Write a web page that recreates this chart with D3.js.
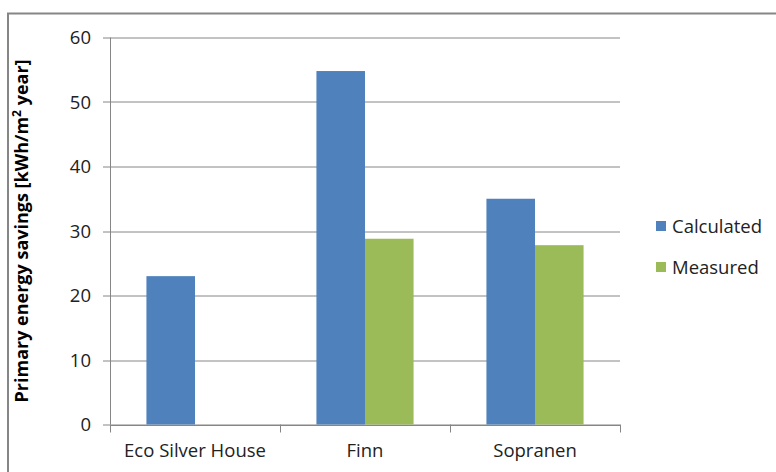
<!DOCTYPE html>
<html>
<head>
<meta charset="utf-8">
<script src="https://cdn.jsdelivr.net/npm/d3@7"></script>
<style>
  body { margin: 0; background: #fff; }
  text { font-family: "Open Sans", sans-serif; fill: #222; }
</style>
</head>
<body>
<div id="chart-area"></div>
<script>
// data
var categories = ["Eco Silver House", "Finn", "Sopranen"];
var seriesNames = ["Calculated", "Measured"];
var calculated = [23, 54.8, 35];
var measured = [null, 28.8, 27.8];
var yTicks = [0, 10, 20, 30, 40, 50, 60];
var colors = ["#4F81BD", "#9BBB59"];

var width = 776, height = 472;
var margin = {top: 37.5, left: 110, right: 156, bottom: 47.5};
var w = width - margin.left - margin.right;
var h = height - margin.top - margin.bottom;

var svg = d3.select("#chart-area")
  .append("svg")
    .attr("width", width)
    .attr("height", height);

// chart frame (cut off at right and bottom like the original)
svg.append("rect")
  .attr("x", 8).attr("y", 13.5)
  .attr("width", 800).attr("height", 500)
  .attr("fill", "none")
  .attr("stroke", "#868686")
  .attr("stroke-width", 2);

var g = svg.append("g")
  .attr("transform", "translate(" + margin.left + "," + margin.top + ")");

var y = d3.scaleLinear().domain([0, 60]).range([h, 0]);
var x = d3.scaleBand().domain(categories).range([0, w]);
var x1 = d3.scaleBand().domain(seriesNames)
  .range([0, x.bandwidth()])
  .paddingInner(0)
  .paddingOuter(0.75);

// gridlines
g.append("g")
  .selectAll("line")
  .data(yTicks)
  .enter().append("line")
    .attr("x1", -7).attr("x2", w)
    .attr("y1", function(d) { return Math.round(y(d)) + 0.5; })
    .attr("y2", function(d) { return Math.round(y(d)) + 0.5; })
    .attr("stroke", "#868686")
    .attr("stroke-width", 1);

// y tick labels
g.append("g")
  .selectAll("text")
  .data(yTicks)
  .enter().append("text")
    .attr("x", -19)
    .attr("y", function(d) { return y(d); })
    .attr("dy", "0.36em")
    .attr("text-anchor", "end")
    .attr("font-size", "18.5px")
    .text(function(d) { return d; });

// bars
var series = [calculated, measured];
seriesNames.forEach(function(name, i) {
  g.append("g")
    .selectAll("rect")
    .data(categories.map(function(c, j) { return {cat: c, v: series[i][j]}; })
      .filter(function(d) { return d.v != null; }))
    .enter().append("rect")
      .attr("x", function(d) { return x(d.cat) + x1(name); })
      .attr("width", x1.bandwidth())
      .attr("y", function(d) { return y(d.v); })
      .attr("height", function(d) { return h - y(d.v); })
      .attr("fill", colors[i]);
});

// y axis line
g.append("line")
  .attr("x1", 0.5).attr("x2", 0.5)
  .attr("y1", 0).attr("y2", h)
  .attr("stroke", "#868686");

// x axis
var xAxis = d3.axisBottom(x).tickSize(0).tickPadding(19);
var xg = g.append("g")
  .attr("transform", "translate(0," + (Math.round(h) + 0.5) + ")")
  .call(xAxis);
xg.select(".domain").attr("stroke", "#868686");
xg.selectAll("text")
  .attr("font-size", "18.5px")
  .attr("font-family", "Open Sans, sans-serif")
  .attr("fill", "#222");

// category separator ticks
g.append("g")
  .selectAll("line")
  .data(d3.range(categories.length + 1))
  .enter().append("line")
    .attr("x1", function(i) { return Math.round(i * x.step()) + 0.5; })
    .attr("x2", function(i) { return Math.round(i * x.step()) + 0.5; })
    .attr("y1", h).attr("y2", h + 8)
    .attr("stroke", "#868686");

// y axis title
g.append("text")
  .attr("transform", "rotate(-90)")
  .attr("x", -(231 - margin.top))
  .attr("y", -82)
  .attr("text-anchor", "middle")
  .attr("font-size", "18px")
  .attr("font-weight", "bold")
  .style("fill", "#000")
  .html('Primary energy savings [kWh/m<tspan dy="-7" font-size="12px">2</tspan><tspan dy="7"> year]</tspan>');

// legend
var legend = svg.append("g")
  .attr("transform", "translate(656,221)");
seriesNames.forEach(function(name, i) {
  var row = legend.append("g").attr("transform", "translate(0," + (i * 41) + ")");
  row.append("rect")
    .attr("width", 10).attr("height", 10)
    .attr("fill", colors[i]);
  row.append("text")
    .attr("x", 16).attr("y", 5)
    .attr("dy", "0.36em")
    .attr("font-size", "18.5px")
    .text(name);
});
</script>
</body>
</html>
